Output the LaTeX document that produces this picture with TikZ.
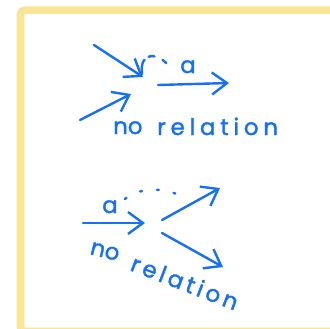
\documentclass[tikz,border=0pt]{standalone}
\usepackage{fontspec}
\setmainfont{Poppins}[FakeBold=1.5]
\newfontfamily\spacedfont[LetterSpace=21,FakeBold=1.5]{Poppins}
\newfontfamily\tightfont[LetterSpace=16,FakeBold=1.5]{Poppins}
\usetikzlibrary{arrows.meta}
\definecolor{ink}{RGB}{22,112,245}
\definecolor{framecol}{RGB}{250,228,150}
\begin{document}
\begin{tikzpicture}[x=1bp,y=-1bp,
  pen/.style={draw=ink, line width=2.4bp, line cap=round, line join=round},
  arr/.style={pen, -{Straight Barb[length=15bp,width=22bp]}},
  dots/.style={pen, dash pattern=on 2bp off 15bp},
  lbl/.style={text=ink, inner sep=0pt, font=\fontsize{23}{23}\selectfont}]
\clip (0,0) rectangle (330,329);
\fill[white] (0,0) rectangle (330,329);
% frame
\draw[framecol, line width=7.5bp, rounded corners=4bp] (20.5,10.2) rectangle (345,331.3);
% ---- top diagram
\coordinate (a1s) at (94,45);
\coordinate (a1e) at (143,77);
\coordinate (a2s) at (80,120);
\coordinate (a2e) at (131,94);
\coordinate (a3s) at (158,85);
\coordinate (a3e) at (229,83);
\draw[arr] (a1s) -- (a1e);
\draw[arr] (a2s) -- (a2e);
\draw[arr] (a3s) -- (a3e);
\coordinate (t1) at (142,74);
\coordinate (t2) at (170,68);
\draw[pen, dash pattern=on 15bp off 5bp on 6bp off 9bp on 5bp off 11bp on 1bp off 20bp]
  (t1) .. controls (139,50) and (160,52) .. (t2);
\node[lbl, anchor=base] (la) at (188,73) {a};
\node[lbl, anchor=base west] (ln1) at (113,134) {no};
\node[lbl, anchor=base west] (lr1) at (157,135) {\spacedfont relation};
% ---- bottom diagram
\coordinate (b1s) at (83,223);
\coordinate (b1e) at (145,223);
\coordinate (b2s) at (162,220);
\coordinate (b2e) at (220,188);
\coordinate (b3s) at (162,233);
\coordinate (b3e) at (223,267);
\draw[arr] (b1s) -- (b1e);
\draw[arr] (b2s) -- (b2e);
\draw[arr] (b3s) -- (b3e);
\coordinate (u1) at (125,199);
\coordinate (u2) at (178,195);
\draw[dots] (u1) .. controls (136,188) and (165,187) .. (u2);
\node[lbl, anchor=base] (lb) at (110,213) {a};
\node[lbl, anchor=base west, rotate=-14] (ln2) at (89,254) {no};
\node[lbl, anchor=base west, rotate=-21] (lr2) at (129,270) {\tightfont relation};
\end{tikzpicture}
\end{document}
